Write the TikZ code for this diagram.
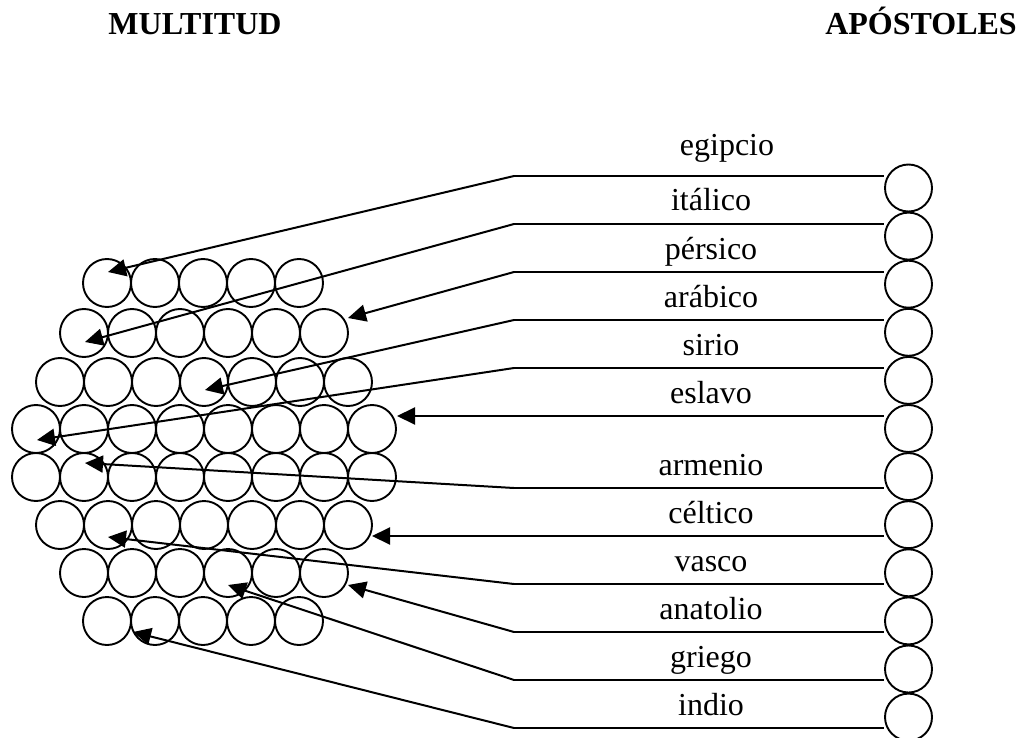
\documentclass[tikz,border=0pt]{standalone}
\usepackage{fontspec}
\setmainfont{Liberation Serif}
\usetikzlibrary{arrows.meta}
\tikzset{
  ball/.style={draw, circle, line width=1.9pt, minimum size=48pt, inner sep=0pt},
  apostle/.style={draw, circle, line width=1.9pt, minimum size=47pt, inner sep=0pt},
  rail/.style={line width=2pt},
  pointer/.style={line width=2pt, -{Triangle[length=18pt,width=17pt]}},
  lang/.style={anchor=base, font=\fontsize{32}{38}\selectfont, inner sep=0pt},
  heading/.style={anchor=base, font=\fontsize{32}{38}\selectfont\bfseries, inner sep=0pt}
}
\begin{document}
\begin{tikzpicture}[x=1pt,y=-1pt]
\useasboundingbox (0,0) rectangle (1022,738);

% headings
\node[heading] (hm) at (195,35) {MULTITUD};
\node[heading] (ha) at (921,35) {APÓSTOLES};

% the multitude: eight rows of packed circles
\foreach \r/\yy/\xo/\n in {1/283/107/5, 2/333/84/6, 3/382/60/7, 4/429/36/8,
                           5/477/36/8, 6/525/60/7, 7/573/84/6, 8/621/107/5}{
  \foreach \k in {1,...,\n}{
    \node[ball] (m-\r-\k) at ({\xo+48*(\k-1)},\yy) {};
  }
}

% the twelve apostles
\foreach \i in {1,...,12}{
  \node[apostle] (a\i) at (908.5,{188+48.1*(\i-1)}) {};
}

% rails: start point, height and the apostle each rail runs to
\foreach \i/\yy in {1/176, 2/224, 3/272, 4/320, 5/368, 6/416,
                    7/488, 8/536, 9/584, 10/632, 11/680, 12/728}{
  \coordinate (k\i) at (514,\yy);
  \draw[rail] (k\i) -- (k\i -| a\i.west);
}

% language names above the rails
\node[lang] (l1)  at (727,156) {egipcio};
\node[lang] (l2)  at (711,211) {itálico};
\node[lang] (l3)  at (711,259) {pérsico};
\node[lang] (l4)  at (711,307) {arábico};
\node[lang] (l5)  at (711,355) {sirio};
\node[lang] (l6)  at (711,403) {eslavo};
\node[lang] (l7)  at (711,475) {armenio};
\node[lang] (l8)  at (711,523) {céltico};
\node[lang] (l9)  at (711,571) {vasco};
\node[lang] (l10) at (711,619) {anatolio};
\node[lang] (l11) at (711,667) {griego};
\node[lang] (l12) at (711,715) {indio};

% arrow targets inside the multitude
\coordinate (t1)  at (108,272);
\coordinate (t2)  at (85,342);
\coordinate (t3)  at (348,318);
\coordinate (t4)  at (205,390);
\coordinate (t5)  at (37,440);
\coordinate (t6)  at (397,416);
\coordinate (t7)  at (85,463);
\coordinate (t8)  at (372,536);
\coordinate (t9)  at (108,537);
\coordinate (t10) at (348,585);
\coordinate (t11) at (228,585);
\coordinate (t12) at (133,632);

\foreach \i in {1,...,12}{
  \draw[pointer] (k\i) -- (t\i);
}
\end{tikzpicture}
\end{document}
